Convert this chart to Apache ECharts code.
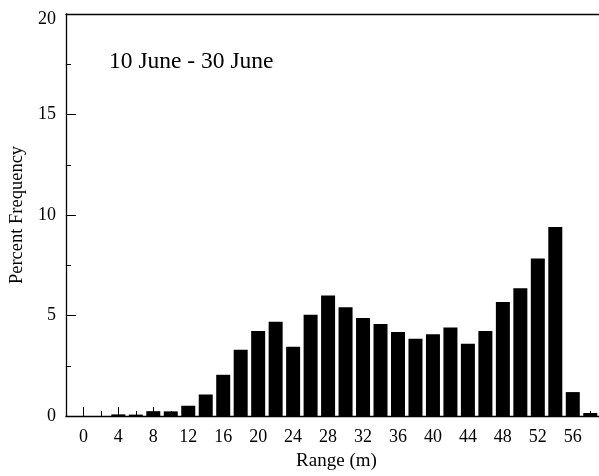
<!DOCTYPE html>
<html>
<head>
<meta charset="utf-8">
<script src="https://cdn.jsdelivr.net/npm/echarts@6/dist/echarts.min.js"></script>
<style>
  html, body { margin: 0; padding: 0; background: #fff; }
  #chart { width: 599px; height: 476px; }
</style>
</head>
<body>
<div id="chart"></div>
<script>
// Range bins (m), bar centres every 2 m
const ranges = [0, 2, 4, 6, 8, 10, 12, 14, 16, 18, 20, 22, 24, 26, 28,
                30, 32, 34, 36, 38, 40, 42, 44, 46, 48, 50, 52, 54, 56, 58];
// Percent frequency per bin
const percentFrequency = [0, 0, 0.08, 0.07, 0.24, 0.23, 0.51, 1.07, 2.05, 3.29,
                          4.23, 4.69, 3.44, 5.04, 5.99, 5.41, 4.88, 4.58, 4.18, 3.84,
                          4.07, 4.40, 3.59, 4.23, 5.67, 6.36, 7.84, 9.40, 1.19, 0.15];
// Labelled (major) and unlabelled (minor) x tick positions
const xMajorTicks = [0, 4, 8, 12, 16, 20, 24, 28, 32, 36, 40, 44, 48, 52, 56];
const xMinorTicks = [2, 6, 10, 14, 18, 22, 26, 30, 34, 38, 42, 46, 50, 54, 58];
const periodLabel = '10 June - 30 June';

const FONT = '"Liberation Serif", "DejaVu Serif", serif';
const INK = '#000';

const chart = echarts.init(document.getElementById('chart'), null, { renderer: 'canvas' });

const xRange = { min: -2, max: 59 };

chart.setOption({
  animation: false,
  backgroundColor: '#fff',
  title: {
    text: periodLabel,
    left: 109,
    top: 50,
    padding: 0,
    textStyle: { fontFamily: FONT, fontSize: 23.5, fontWeight: 'normal', color: INK }
  },
  grid: { left: 65, right: 0, top: 14, bottom: 57, show: false },
  xAxis: [
    {
      type: 'value', position: 'bottom', ...xRange,
      name: 'Range (m)', nameLocation: 'middle', nameGap: 36,
      nameTextStyle: { fontFamily: FONT, fontSize: 19, color: INK, padding: [0, 0, 0, 8] },
      axisLine: { show: true, onZero: false, lineStyle: { color: INK, width: 1.3 } },
      axisTick: { show: true, inside: true, length: 9, customValues: xMajorTicks,
                  lineStyle: { color: INK, width: 1 } },
      axisLabel: { show: true, customValues: xMajorTicks, margin: 12,
                   fontFamily: FONT, fontSize: 18, color: INK },
      splitLine: { show: false }
    },
    {
      type: 'value', position: 'bottom', offset: 0, ...xRange,
      axisLine: { show: false },
      axisTick: { show: true, inside: true, length: 5, customValues: xMinorTicks,
                  lineStyle: { color: INK, width: 1 } },
      axisLabel: { show: false },
      splitLine: { show: false }
    },
    {
      // frame line along the top of the plot
      type: 'value', position: 'top', ...xRange,
      axisLine: { show: true, onZero: false, lineStyle: { color: INK, width: 1.3 } },
      axisTick: { show: false },
      axisLabel: { show: false },
      splitLine: { show: false }
    }
  ],
  yAxis: {
    type: 'value', min: 0, max: 20, interval: 5,
    name: 'Percent Frequency', nameLocation: 'middle', nameGap: 34, nameRotate: 90,
    nameTextStyle: { fontFamily: FONT, fontSize: 18.5, color: INK },
    axisLine: { show: true, onZero: false, lineStyle: { color: INK, width: 1.3 } },
    axisTick: { show: true, inside: true, length: 10, lineStyle: { color: INK, width: 1 } },
    minorTick: { show: true, splitNumber: 2, length: 5, lineStyle: { color: INK, width: 1 } },
    axisLabel: {
      margin: 10, fontFamily: FONT, fontSize: 18, color: INK,
      // the topmost label sits a little below the frame line
      formatter: v => (v === 20 ? '{top|' + v + '}' : String(v)),
      rich: { top: { fontFamily: FONT, fontSize: 18, color: INK, padding: [10, 0, 0, 0] } }
    },
    splitLine: { show: false }
  },
  series: [{
    type: 'bar',
    xAxisIndex: 0,
    barWidth: 14,
    itemStyle: { color: INK },
    data: ranges.map((r, i) => [r, percentFrequency[i]])
  }]
});
</script>
</body>
</html>
